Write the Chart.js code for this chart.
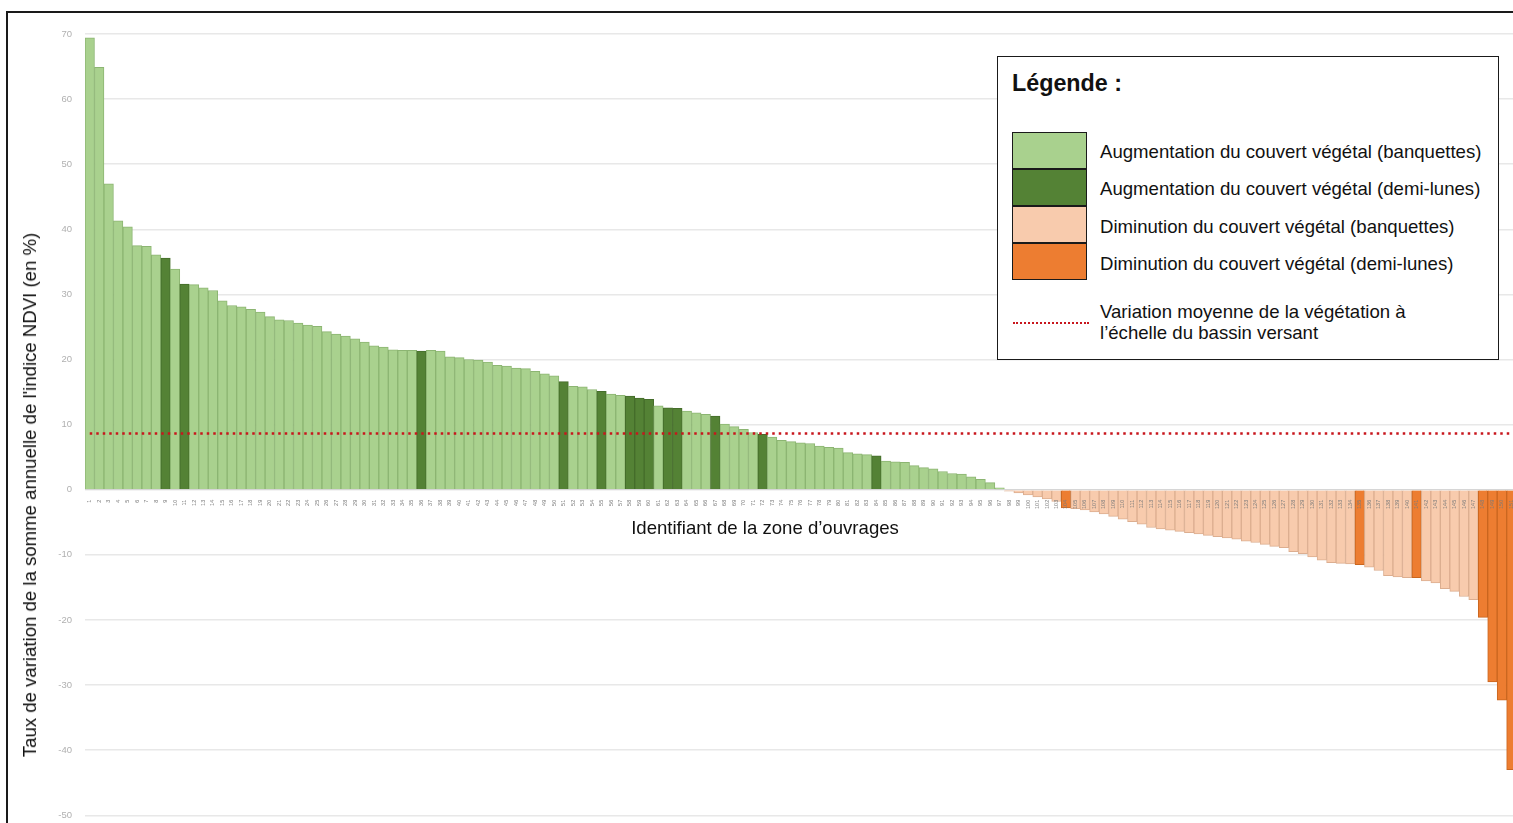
<!DOCTYPE html>
<html lang="fr">
<head>
<meta charset="utf-8">
<script src="https://cdn.jsdelivr.net/npm/chart.js@4.4.0/dist/chart.umd.min.js"></script>
<style>
  html, body { margin: 0; padding: 0; background: #fff; overflow: hidden; width: 1513px; height: 823px; }
  body { position: relative; font-family: "Liberation Sans", Arial, sans-serif; color: #111; }
  #frame { position: absolute; left: 6px; top: 11px; width: 1560px; height: 900px; border-left: 2px solid #1a1a1a; border-top: 2px solid #1a1a1a; }
  #wrap { position: absolute; left: 0; top: 0; width: 1520px; height: 834px; }
  #ytitle { position: absolute; left: 30px; top: 495px; transform: translate(-50%, -50%) rotate(-90deg); white-space: nowrap; font-size: 18.6px; }
  #xtitle { position: absolute; left: 765px; top: 528px; transform: translate(-50%, -50%); white-space: nowrap; font-size: 18.6px; }
  #legend { position: absolute; left: 997px; top: 56px; width: 500px; height: 302px; border: 1.5px solid #1a1a1a; background: #fff; }
  #legend .title { position: absolute; left: 14px; top: 13px; font-size: 23.3px; font-weight: bold; }
  #legend .sw { position: absolute; left: 14px; width: 73px; height: 35px; border: 1.5px solid #1a1a1a; }
  #legend .txt { position: absolute; left: 102px; font-size: 18.6px; line-height: 21px; white-space: nowrap; }
  #legend .dots { position: absolute; left: 15px; top: 265px; width: 76px; height: 0; border-top: 2.5px dotted #c8161d; }
</style>
</head>
<body>
<div id="frame"></div>
<div id="wrap"><canvas id="myChart"></canvas></div>
<div id="ytitle">Taux de variation de la somme annuelle de l'indice NDVI (en %)</div>
<div id="xtitle">Identifiant de la zone d’ouvrages</div>
<div id="legend">
  <div class="title">Légende :</div>
  <div class="sw" style="top:75px;background:#a9d18e"></div>
  <div class="sw" style="top:112px;background:#548235"></div>
  <div class="sw" style="top:149px;background:#f8cbad"></div>
  <div class="sw" style="top:186px;background:#ed7d31"></div>
  <div class="txt" style="top:84px">Augmentation du couvert végétal (banquettes)</div>
  <div class="txt" style="top:121px">Augmentation du couvert végétal (demi-lunes)</div>
  <div class="txt" style="top:159px">Diminution du couvert végétal (banquettes)</div>
  <div class="txt" style="top:196px">Diminution du couvert végétal (demi-lunes)</div>
  <div class="dots"></div>
  <div class="txt" style="top:244px">Variation moyenne de la végétation à<br>l’échelle du bassin versant</div>
</div>
<script>
// taux de variation (%) par zone d'ouvrages, triés
var values = [
  69.4, 64.9, 47.0, 41.3, 40.4, 37.5, 37.4, 36.1, 35.6, 33.9,
  31.6, 31.5, 31.0, 30.6, 29.0, 28.3, 28.1, 27.7, 27.3, 26.6,
  26.1, 26.0, 25.6, 25.3, 25.1, 24.3, 23.9, 23.6, 23.2, 22.7,
  22.1, 21.9, 21.5, 21.4, 21.4, 21.3, 21.4, 21.3, 20.4, 20.3,
  20.0, 19.9, 19.6, 19.1, 19.0, 18.7, 18.6, 18.2, 17.8, 17.5,
  16.6, 15.9, 15.8, 15.4, 15.1, 14.7, 14.5, 14.4, 14.1, 13.9,
  12.9, 12.6, 12.5, 12.1, 11.8, 11.6, 11.3, 10.1, 9.7, 9.3,
  8.8, 8.5, 8.1, 7.6, 7.4, 7.2, 7.1, 6.7, 6.5, 6.4,
  5.7, 5.5, 5.4, 5.2, 4.4, 4.3, 4.2, 3.7, 3.4, 3.2,
  2.8, 2.5, 2.4, 2.0, 1.6, 1.1, 0.3, -0.2, -0.5, -0.8,
  -1.1, -1.4, -1.8, -2.8, -2.9, -3.1, -3.4, -3.7, -4.1, -4.5,
  -4.9, -5.3, -5.8, -6.0, -6.2, -6.4, -6.6, -6.8, -7.0, -7.2,
  -7.4, -7.6, -7.9, -8.1, -8.4, -8.7, -8.9, -9.5, -9.8, -10.3,
  -10.8, -11.2, -11.3, -11.4, -11.5, -11.9, -12.4, -13.2, -13.4, -13.5,
  -13.5, -14.0, -14.3, -15.2, -15.6, -16.4, -16.9, -19.6, -29.5, -32.3,
  -43.0
];
// positions des zones de demi-lunes (les autres sont des banquettes)
var demiLunes = [8, 10, 35, 50, 54, 57, 58, 59, 61, 62, 66, 71, 83, 103, 134, 140, 147, 148, 149, 150];
var moyenne = 8.65;
var yTicks = [70, 60, 50, 40, 30, 20, 10, 0, -10, -20, -30, -40, -50];

var ids = values.map(function (v, i) { return String(i + 1); });

var fill = values.map(function (v, i) {
  var dl = demiLunes.indexOf(i) >= 0;
  if (v >= 0) return dl ? '#548235' : '#a9d18e';
  return dl ? '#ed7d31' : '#f8cbad';
});
var edge = values.map(function (v, i) {
  var dl = demiLunes.indexOf(i) >= 0;
  if (v >= 0) return dl ? '#456d2b' : '#8cb572';
  return dl ? '#c9661f' : '#dcae90';
});

var ctx = document.getElementById('myChart').getContext('2d');
var chart = new Chart(ctx, {
  type: 'bar',
  data: {
    labels: ids,
    datasets: [{
      type: 'line',
      data: ids.map(function () { return moyenne; }),
      borderColor: '#c8161d',
      borderWidth: 2.5,
      borderDash: [2.5, 4],
      pointRadius: 0,
      order: 0
    }, {
      data: values,
      backgroundColor: fill,
      borderColor: edge,
      borderWidth: 1,
      categoryPercentage: 1,
      barPercentage: 1,
      order: 1
    }]
  },
  options: {
    responsive: true,
    maintainAspectRatio: false,
    animation: false,
    layout: { padding: { top: 34, bottom: 15, left: 0, right: 0 } },
    plugins: { legend: { display: false }, tooltip: { enabled: false } },
    scales: {
      x: {
        position: { y: 0 },
        grid: { display: false },
        border: { color: '#d6d6d6', width: 1 },
        ticks: {
          autoSkip: false, minRotation: 90, maxRotation: 90, padding: 2, z: 1,
          color: '#7a7a7a', font: { family: 'Liberation Sans', size: 5.5 }
        }
      },
      y: {
        min: -50, max: 70,
        afterFit: function (s) { s.width = 85; },
        afterBuildTicks: function (s) { s.ticks = yTicks.map(function (v) { return { value: v }; }); },
        grid: { color: '#e8e8e8', lineWidth: 1.5, drawTicks: false },
        border: { display: false },
        ticks: { padding: 13, color: '#b0b0b0', font: { family: 'Liberation Sans', size: 9.5 } }
      }
    }
  }
});
</script>
</body>
</html>
